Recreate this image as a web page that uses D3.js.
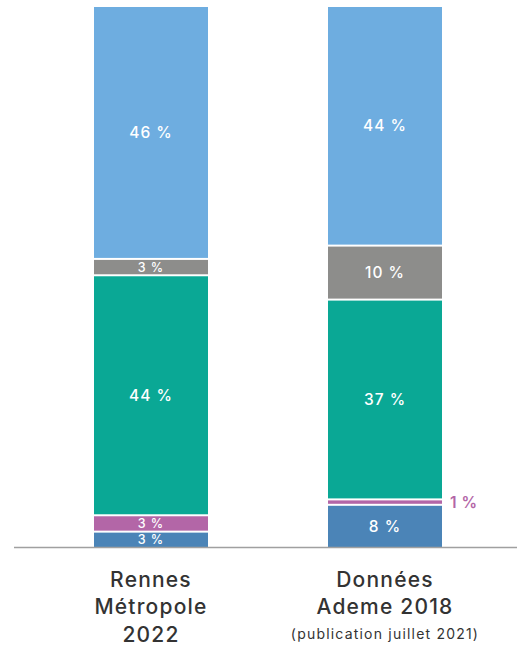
<!DOCTYPE html>
<html>
<head>
<meta charset="utf-8">
<script src="https://cdn.jsdelivr.net/npm/d3@7"></script>
<style>
  html, body { margin: 0; padding: 0; background: #fff; }
  svg { display: block; }
</style>
</head>
<body>
<svg id="chart" width="517" height="650"></svg>
<script>
// Répartition par source (en %), de bas en haut de chaque barre
const categories = ["Rennes Métropole 2022", "Données Ademe 2018"];
const categoryLines = [
  ["Rennes", "Métropole", "2022"],
  ["Données", "Ademe 2018", "(publication juillet 2021)"]
];
const seriesKeys = ["s1", "s2", "s3", "s4", "s5"];
const seriesColors = ["#4b84b7", "#b366a7", "#0aa895", "#8d8d8b", "#6eade0"];
const rennesValues = [3, 3, 44, 3, 46];
const ademeValues = [8, 1, 37, 10, 44];
const valueLabels = [
  ["3 %", "3 %", "44 %", "3 %", "46 %"],
  ["8 %", "1 %", "37 %", "10 %", "44 %"]
];

const rows = [rennesValues, ademeValues].map((vals, i) => {
  const row = { cat: categories[i] };
  seriesKeys.forEach((k, j) => row[k] = vals[j]);
  return row;
});

const svg = d3.select("#chart");
const W = 517;
const baseY = 547, topY = 7, gap = 2;

const x = d3.scaleBand()
  .domain(categories)
  .range([14, 522])
  .paddingInner(120 / 234)
  .paddingOuter(80 / 234);

const y = d3.scaleLinear().domain([0, 1]).range([baseY, topY]);

const stacked = d3.stack().keys(seriesKeys).offset(d3.stackOffsetExpand)(rows);
const color = d3.scaleOrdinal().domain(seriesKeys).range(seriesColors);

const layers = svg.append("g").selectAll("g")
  .data(stacked)
  .join("g")
  .attr("fill", d => color(d.key));

layers.each(function (layer, li) {
  const isTop = li === stacked.length - 1;
  d3.select(this).selectAll("rect")
    .data(layer)
    .join("rect")
    .attr("x", d => x(d.data.cat))
    .attr("width", x.bandwidth())
    .attr("y", d => y(d[1]) + (isTop ? 0 : gap))
    .attr("height", d => Math.max(0, y(d[0]) - y(d[1]) - (isTop ? 0 : gap)));
});

// Étiquettes de valeur
const labelFont = "Inter, 'Open Sans', sans-serif";
stacked.forEach((layer, li) => {
  const isTop = li === stacked.length - 1;
  layer.forEach((d, ci) => {
    const text = valueLabels[ci][li];
    const y0 = y(d[0]), y1 = y(d[1]) + (isTop ? 0 : gap);
    const h = y0 - y1;
    const cx = x(d.data.cat) + x.bandwidth() / 2;
    const cy = (y0 + y1) / 2;
    if (h >= 12) {
      svg.append("text")
        .attr("x", cx).attr("y", cy)
        .attr("text-anchor", "middle")
        .attr("dominant-baseline", "central")
        .attr("fill", "#fff")
        .attr("font-family", labelFont)
        .attr("font-weight", 500)
        .attr("font-size", h < 20 ? 12.5 : 15.5)
        .attr("letter-spacing", 1)
        .text(text);
    } else {
      svg.append("text")
        .attr("x", x(d.data.cat) + x.bandwidth() + 8).attr("y", cy)
        .attr("text-anchor", "start")
        .attr("dominant-baseline", "central")
        .attr("fill", color(layer.key))
        .attr("font-family", labelFont)
        .attr("font-weight", 600)
        .attr("font-size", 15.5)
        .attr("letter-spacing", 0.5)
        .text(text);
    }
  });
});

// Ligne de base
svg.append("line")
  .attr("x1", 14).attr("x2", W)
  .attr("y1", baseY + 0.5).attr("y2", baseY + 0.5)
  .attr("stroke", "#a0a0a0")
  .attr("stroke-width", 1.5);

// Libellés des catégories
categories.forEach((cat, ci) => {
  const cx = x(cat) + x.bandwidth() / 2;
  const lines = categoryLines[ci];
  const t = svg.append("text")
    .attr("text-anchor", "middle")
    .attr("fill", "#333")
    .attr("font-family", labelFont);
  lines.forEach((ln, li) => {
    const small = ln.startsWith("(");
    t.append("tspan")
      .attr("x", cx)
      .attr("y", [587, 614, small ? 639 : 642][li])
      .attr("font-size", small ? 14 : 21)
      .attr("font-weight", small ? 400 : 500)
      .attr("letter-spacing", small ? 1.2 : 1.2)
      .text(ln);
  });
});
</script>
</body>
</html>
